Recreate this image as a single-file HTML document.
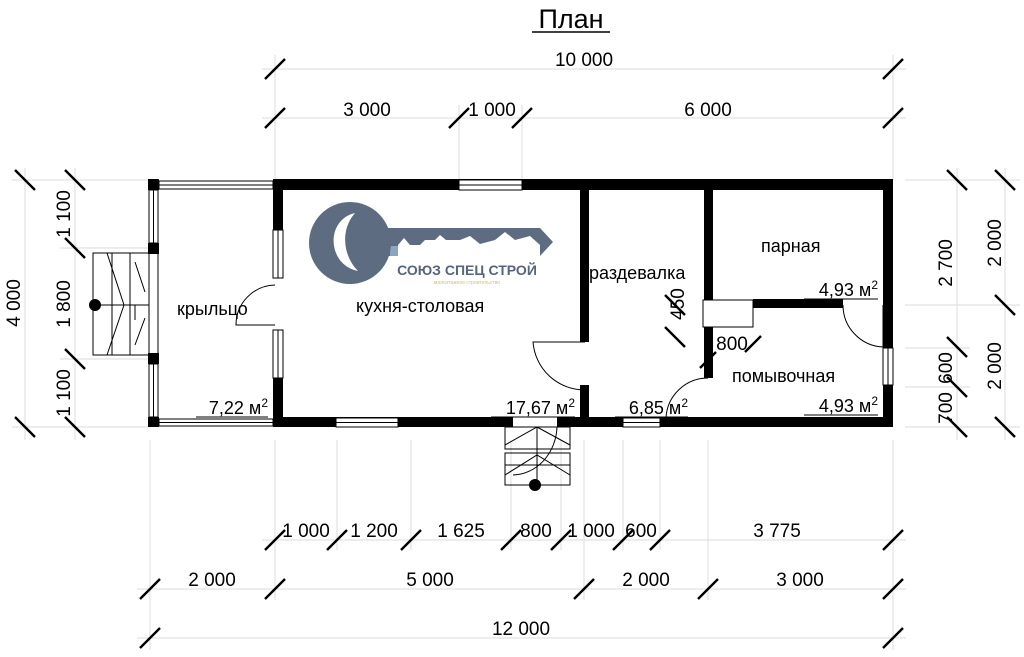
<!DOCTYPE html>
<html><head><meta charset="utf-8"><style>
html,body{margin:0;padding:0;background:#fff;}
svg{display:block;font-family:"Liberation Sans",sans-serif;}
</style></head><body>
<svg width="1024" height="657" viewBox="0 0 1024 657">
<g stroke="#e2e2e2" stroke-width="1.2" fill="none">
<line x1="275" y1="55" x2="275" y2="180"/><line x1="893" y1="55" x2="893" y2="180"/>
<line x1="459" y1="105" x2="459" y2="180"/><line x1="522" y1="105" x2="522" y2="180"/>
<line x1="262" y1="69" x2="906" y2="69"/><line x1="262" y1="118" x2="906" y2="118"/>
<line x1="150" y1="440" x2="150" y2="650"/><line x1="275" y1="440" x2="275" y2="600"/>
<line x1="893" y1="440" x2="893" y2="650"/><line x1="584" y1="440" x2="584" y2="600"/>
<line x1="708" y1="440" x2="708" y2="600"/>
<line x1="337" y1="440" x2="337" y2="550"/><line x1="411" y1="440" x2="411" y2="550"/>
<line x1="511" y1="440" x2="511" y2="550"/><line x1="561" y1="440" x2="561" y2="550"/>
<line x1="623" y1="440" x2="623" y2="550"/><line x1="660" y1="440" x2="660" y2="550"/>
<line x1="262" y1="540" x2="906" y2="540"/><line x1="137" y1="589" x2="906" y2="589"/>
<line x1="137" y1="638" x2="906" y2="638"/>
<line x1="12" y1="180" x2="150" y2="180"/><line x1="12" y1="427" x2="150" y2="427"/>
<line x1="60" y1="248" x2="150" y2="248"/><line x1="60" y1="359" x2="150" y2="359"/>
<line x1="25" y1="168" x2="25" y2="440"/><line x1="75" y1="168" x2="75" y2="440"/>
<line x1="905" y1="180" x2="1020" y2="180"/><line x1="905" y1="427" x2="1020" y2="427"/>
<line x1="905" y1="305" x2="1020" y2="305"/><line x1="905" y1="348" x2="970" y2="348"/>
<line x1="905" y1="387" x2="970" y2="387"/>
<line x1="957" y1="168" x2="957" y2="440"/><line x1="1005" y1="168" x2="1005" y2="440"/>
</g>
<g stroke="#000" stroke-width="2.4">
<path d="M265 79 L285 59 M883 79 L903 59 M265 128 L285 108 M449 128 L469 108 M512 128 L532 108 M883 128 L903 108"/>
<path d="M265 550 L285 530 M327 550 L347 530 M401 550 L421 530 M501 550 L521 530 M551 550 L571 530 M613 550 L633 530 M650 550 L670 530 M883 550 L903 530"/>
<path d="M140 599 L160 579 M265 599 L285 579 M574 599 L594 579 M698 599 L718 579 M883 599 L903 579"/>
<path d="M140 648 L160 628 M883 648 L903 628"/>
<path d="M15 170 L35 190 M15 417 L35 437 M65 170 L85 190 M65 238 L85 258 M65 349 L85 369 M65 417 L85 437"/>
<path d="M947 170 L967 190 M947 337 L967 357 M947 377 L967 397 M947 417 L967 437 M995 170 L1015 190 M995 295 L1015 315 M995 417 L1015 437"/>
<path d="M665 295 L685 315 M665 327 L685 347 M700 368 L716 352 M745 352 L761 336"/>
</g>
<g font-size="19" fill="#000" text-anchor="middle">
<text x="584" y="66">10 000</text>
<text x="367" y="116">3 000</text><text x="492" y="116">1 000</text><text x="708" y="116">6 000</text>
<text x="306" y="537">1 000</text><text x="374" y="537">1 200</text><text x="461" y="537">1 625</text>
<text x="536" y="537">800</text><text x="591" y="537">1 000</text><text x="641" y="537">600</text><text x="777" y="537">3 775</text>
<text x="212" y="586">2 000</text><text x="430" y="586">5 000</text><text x="646" y="586">2 000</text><text x="800" y="586">3 000</text>
<text x="521" y="635">12 000</text>
<text transform="translate(20,303) rotate(-90)">4 000</text>
<text transform="translate(70,214) rotate(-90)">1 100</text>
<text transform="translate(70,304) rotate(-90)">1 800</text>
<text transform="translate(70,393) rotate(-90)">1 100</text>
<text transform="translate(952,263) rotate(-90)">2 700</text>
<text transform="translate(952,368) rotate(-90)">600</text>
<text transform="translate(952,408) rotate(-90)">700</text>
<text transform="translate(1001,243) rotate(-90)">2 000</text>
<text transform="translate(1001,366) rotate(-90)">2 000</text>
<text transform="translate(684,304) rotate(-90)">450</text>
<text x="732" y="350">800</text>
</g>
<text x="571" y="28" font-size="27" text-anchor="middle">План</text>
<line x1="532" y1="32" x2="610" y2="32" stroke="#000" stroke-width="1.5"/>
<g>
<path d="M385 228 L540 228 L553 242 L540 256 L385 256 Z" fill="#5d6c80"/>
<path d="M390 246 L540 246 L535 256 L390 256 Z" fill="#8aa6c4"/>
<circle cx="350" cy="243" r="41" fill="#5d6c80"/>
<path d="M355 213 C325 220 327 265 358 271 C343 256 340 230 355 213 Z" fill="#fff"/>
<path d="M398 262 L398 245 L404 238 L410 245 L420 245 L425 240 L435 240 L440 235 L446 240 L460 240 L470 236 L480 244 L495 240 L505 232 L515 240 L530 236 L540 245 L540 262 Z" fill="#fff"/>
<text x="467" y="275" font-size="14" font-weight="bold" fill="#56657a" text-anchor="middle">СОЮЗ СПЕЦ СТРОЙ</text>
<text x="467" y="284" font-size="5" fill="#d8c070" text-anchor="middle">малоэтажное строительство</text>
</g>
<g fill="#000">
<rect x="273" y="179" width="620" height="11"/>
<rect x="883" y="179" width="10" height="169"/>
<rect x="883" y="385" width="10" height="42"/>
<rect x="273" y="417" width="240" height="10"/>
<rect x="557" y="417" width="336" height="10"/>
<rect x="273" y="179" width="10" height="51"/>
<rect x="273" y="378" width="10" height="49"/>
<rect x="580" y="179" width="9" height="163"/>
<rect x="580" y="385" width="9" height="42"/>
<rect x="704" y="179" width="9" height="121"/>
<rect x="704" y="327" width="9" height="51"/>
<rect x="753" y="299" width="90" height="9"/>
<rect x="148" y="179" width="11" height="11"/><rect x="148" y="243" width="11" height="11"/>
<rect x="148" y="353" width="11" height="11"/><rect x="148" y="417" width="11" height="10"/>
</g>
<g fill="#fff" stroke="#000" stroke-width="1">
<rect x="459" y="180" width="63" height="10"/><line x1="459" y1="185" x2="522" y2="185"/>
<rect x="336" y="418" width="62" height="9"/><line x1="336" y1="422.5" x2="398" y2="422.5"/>
<rect x="623" y="418" width="37" height="9"/><line x1="623" y1="422.5" x2="660" y2="422.5"/>
<rect x="273" y="230" width="10" height="48"/><line x1="278" y1="230" x2="278" y2="278"/>
<rect x="273" y="330" width="10" height="48"/><line x1="278" y1="330" x2="278" y2="378"/>
<rect x="883" y="348" width="10" height="37"/><line x1="888" y1="348" x2="888" y2="385"/>
<rect x="159" y="181" width="114" height="8"/><line x1="159" y1="185" x2="273" y2="185"/>
<rect x="159" y="419" width="114" height="7"/><line x1="159" y1="422.5" x2="273" y2="422.5"/>
<rect x="149" y="190" width="9" height="53"/><line x1="153.5" y1="190" x2="153.5" y2="243"/>
<rect x="149" y="364" width="9" height="53"/><line x1="153.5" y1="364" x2="153.5" y2="417"/>
<rect x="703" y="300" width="50" height="27"/>
</g>
<g fill="none" stroke="#000" stroke-width="1">
<path d="M275 285 A40 40 0 0 0 236 325 L275 325"/>
<path d="M585 342 L533 342 A52 52 0 0 0 585 390"/>
<path d="M708 378 A42 42 0 0 0 666 418 L710 418"/>
<path d="M843 305 A42 42 0 0 0 883 347 L883 305"/>
<line x1="149" y1="254" x2="149" y2="353"/><line x1="158" y1="254" x2="158" y2="353"/>
<rect x="93" y="253" width="37" height="102"/><rect x="130" y="253" width="19" height="102"/>
<line x1="112" y1="253" x2="112" y2="355"/><line x1="93" y1="305" x2="149" y2="305"/>
<path d="M107 253 L124 305 L107 355 M135 262 L145 292 M135 345 L145 318 M135 305 L135 320"/>
<rect x="505" y="427" width="65" height="22"/><rect x="505" y="453" width="65" height="32"/>
<line x1="505" y1="465" x2="570" y2="465"/><line x1="537" y1="427" x2="537" y2="485"/>
<path d="M505 445 L537 427 L570 445 M505 475 L537 455 L570 475"/>
<path d="M557 427 A45 50 0 0 1 513 475"/>
</g>
<circle cx="95" cy="305" r="6"/><circle cx="535" cy="485" r="6"/>
<g font-size="18" fill="#000">
<text x="177" y="315">крыльцо</text>
<text x="356" y="312">кухня-столовая</text>
<text x="589" y="279">раздевалка</text>
<text x="761" y="252">парная</text>
<text x="732" y="382">помывочная</text>
</g>
<g font-size="18" fill="#000" text-anchor="end">
<text x="268" y="414">7,22 м<tspan font-size="12" dy="-7">2</tspan></text>
<text x="575" y="414">17,67 м<tspan font-size="12" dy="-7">2</tspan></text>
<text x="688" y="414">6,85 м<tspan font-size="12" dy="-7">2</tspan></text>
<text x="878" y="296">4,93 м<tspan font-size="12" dy="-7">2</tspan></text>
<text x="878" y="412">4,93 м<tspan font-size="12" dy="-7">2</tspan></text>
</g>
<g stroke="#000" stroke-width="1">
<line x1="196" y1="417" x2="268" y2="417"/><line x1="491" y1="417" x2="575" y2="417"/>
<line x1="615" y1="417" x2="688" y2="417"/><line x1="804" y1="299" x2="878" y2="299"/>
<line x1="804" y1="415" x2="878" y2="415"/>
</g>
</svg>
</body></html>
